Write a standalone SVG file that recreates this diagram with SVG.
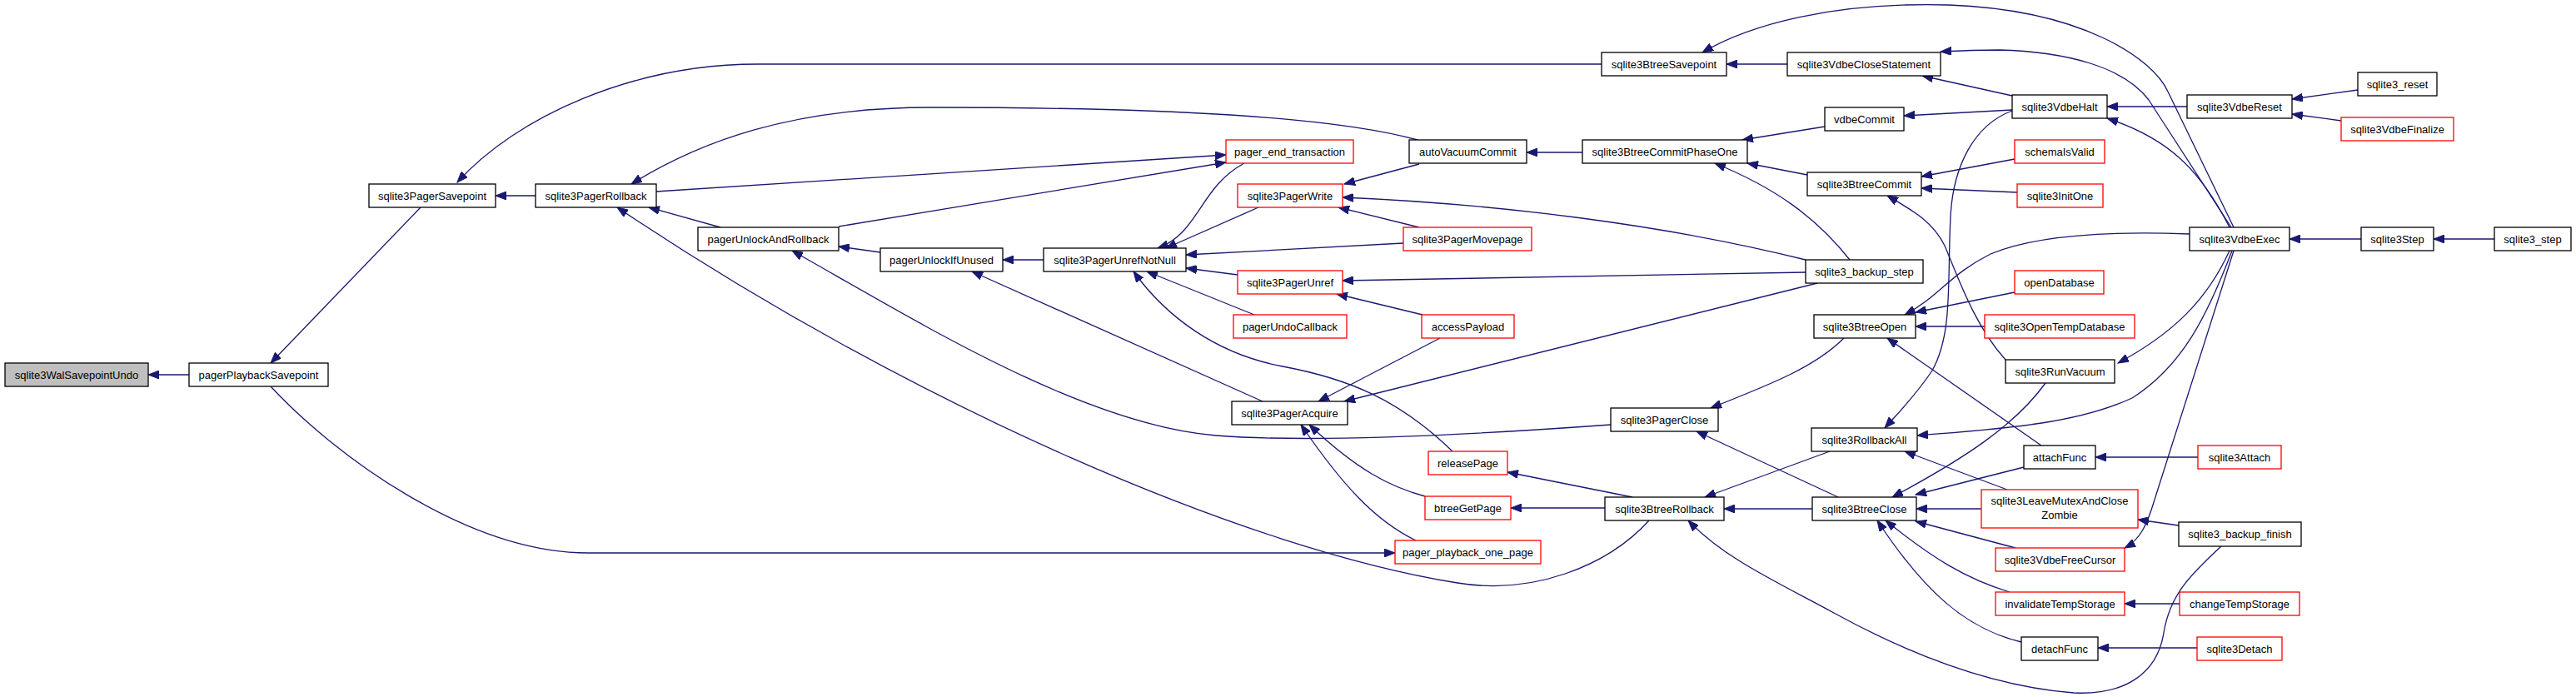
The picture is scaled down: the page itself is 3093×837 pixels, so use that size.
<svg xmlns="http://www.w3.org/2000/svg" width="3093" height="837" viewBox="0 0 3093 837">
<style>
.nd rect{fill:#ffffff;stroke:#000000;stroke-width:1.3}
.nd.red rect{stroke:#ff0000}
.nd.cur rect{fill:#bfbfbf}
.nd text{font-family:"Liberation Sans",Arial,sans-serif;font-size:13px;fill:#000000;text-anchor:middle}
.ed path{fill:none;stroke:#191970;stroke-width:1.3;marker-end:url(#ah)}
</style>
<defs>
<marker id="ah" markerWidth="14" markerHeight="10" refX="13" refY="5" orient="auto" markerUnits="userSpaceOnUse">
<polygon points="0,0 13,5 0,10" fill="#191970" stroke="#191970" stroke-width="1"/>
</marker>
</defs>
<rect x="0" y="0" width="3093" height="837" fill="#ffffff"/>
<g id="connectors" class="ed">
<path d="M227,450 L178,450"/>
<path d="M505,249 L325,436"/>
<path d="M325,464 C400,545 560,664 706,664 L1675,664"/>
<path d="M643,235 L595,235"/>
<path d="M1923,77 L910,77 C760,77 620,140 549,219"/>
<path d="M1702,168 C1600,140 1400,129 1118,129 C950,129 840,170 758,221"/>
<path d="M788,230 L1472,186"/>
<path d="M1007,272 L1472,195"/>
<path d="M865,273 L779,249"/>
<path d="M1057,303 L1007,296"/>
<path d="M1253,312 L1204,312"/>
<path d="M1934,510 C1700,527 1550,530 1460,523 C1300,510 1100,385 951,301"/>
<path d="M1516,482 L1167,326"/>
<path d="M1494,196 C1440,225 1440,280 1390,298"/>
<path d="M1511,249 L1400,298"/>
<path d="M1685,292 L1424,306"/>
<path d="M1486,330 L1424,322"/>
<path d="M1506,378 L1377,326"/>
<path d="M1744,542 C1680,480 1620,455 1540,440 C1460,425 1400,380 1361,326"/>
<path d="M1704,197 L1614,221"/>
<path d="M2168,312 C2000,270 1800,245 1612,237"/>
<path d="M1704,273 L1607,249"/>
<path d="M2168,327 L1612,337"/>
<path d="M1708,378 L1605,353"/>
<path d="M1729,406 L1583,482"/>
<path d="M2182,340 L1614,482"/>
<path d="M1700,649 C1650,625 1610,580 1562,510"/>
<path d="M1711,596 C1670,585 1630,565 1572,510"/>
<path d="M1960,597 L1810,567"/>
<path d="M1927,610 L1814,610"/>
<path d="M1980,625 C1930,680 1840,715 1750,700 C1500,660 1100,490 741,249"/>
<path d="M2207,597 L2037,518"/>
<path d="M2214,406 C2180,440 2130,460 2054,490"/>
<path d="M2197,542 L2047,597"/>
<path d="M2176,611 L2070,611"/>
<path d="M2667,656 C2630,690 2605,715 2598,760 C2590,810 2550,835 2490,832 C2400,825 2300,790 2200,735 C2130,697 2070,670 2027,625"/>
<path d="M2416,133 C2370,150 2345,200 2342,260 C2338,340 2345,400 2320,445 C2300,475 2280,495 2263,514"/>
<path d="M2682,273 L2603,110 C2585,70 2500,12 2340,6 C2200,2 2100,30 2044,63"/>
<path d="M2679,273 L2580,120 C2550,80 2480,62 2400,60 C2370,60 2350,61 2330,62"/>
<path d="M2677,273 C2640,200 2600,165 2530,142"/>
<path d="M2626,128 L2530,128"/>
<path d="M2416,115 L2308,91"/>
<path d="M2416,132 L2286,139"/>
<path d="M2191,152 L2092,168"/>
<path d="M2170,210 L2098,196"/>
<path d="M2221,312 C2180,260 2130,225 2059,196"/>
<path d="M1900,183 L1833,183"/>
<path d="M2146,77 L2073,77"/>
<path d="M2831,108 L2752,119"/>
<path d="M2811,145 L2752,137"/>
<path d="M2419,191 L2307,212"/>
<path d="M2422,231 L2307,226"/>
<path d="M2408,432 C2370,390 2350,330 2335,295 C2320,265 2295,252 2266,235"/>
<path d="M2835,287 L2749,287"/>
<path d="M2995,287 L2922,287"/>
<path d="M2629,281 C2550,278 2450,280 2390,305 C2340,330 2330,355 2287,378"/>
<path d="M2419,351 L2300,375"/>
<path d="M2383,392 L2300,392"/>
<path d="M2451,535 L2266,406"/>
<path d="M2677,301 C2650,360 2610,400 2543,436"/>
<path d="M2680,301 C2650,380 2620,440 2560,478 C2490,510 2400,515 2302,523"/>
<path d="M2682,301 L2587,600 C2578,630 2570,648 2551,658"/>
<path d="M2639,549 L2516,549"/>
<path d="M2410,588 L2287,542"/>
<path d="M2456,460 C2420,510 2360,550 2272,597"/>
<path d="M2430,561 L2300,594"/>
<path d="M2379,611 L2301,611"/>
<path d="M2420,658 L2300,626"/>
<path d="M2413,711 C2360,695 2320,670 2264,625"/>
<path d="M2427,771 C2360,755 2310,710 2254,625"/>
<path d="M2616,631 L2567,624"/>
<path d="M2617,725 L2551,725"/>
<path d="M2638,778 L2519,778"/>
</g>
<g id="n1" class="nd cur"><rect x="6" y="436" width="172" height="28"/><text x="92" y="454.5">sqlite3WalSavepointUndo</text></g>
<g id="n2" class="nd"><rect x="227" y="436" width="167" height="28"/><text x="310.5" y="454.5">pagerPlaybackSavepoint</text></g>
<g id="n3" class="nd"><rect x="443" y="221" width="152" height="28"/><text x="519" y="239.5">sqlite3PagerSavepoint</text></g>
<g id="n4" class="nd"><rect x="643" y="221" width="145" height="28"/><text x="715.5" y="239.5">sqlite3PagerRollback</text></g>
<g id="n5" class="nd"><rect x="838" y="273" width="169" height="28"/><text x="922.5" y="291.5">pagerUnlockAndRollback</text></g>
<g id="n6" class="nd"><rect x="1057" y="298" width="147" height="28"/><text x="1130.5" y="316.5">pagerUnlockIfUnused</text></g>
<g id="n7" class="nd"><rect x="1253" y="298" width="171" height="28"/><text x="1338.5" y="316.5">sqlite3PagerUnrefNotNull</text></g>
<g id="n8" class="nd red"><rect x="1472" y="168" width="153" height="28"/><text x="1548.5" y="186.5">pager_end_transaction</text></g>
<g id="n9" class="nd red"><rect x="1486" y="221" width="126" height="28"/><text x="1549" y="239.5">sqlite3PagerWrite</text></g>
<g id="n10" class="nd red"><rect x="1685" y="273" width="154" height="28"/><text x="1762" y="291.5">sqlite3PagerMovepage</text></g>
<g id="n11" class="nd red"><rect x="1486" y="325" width="126" height="28"/><text x="1549" y="343.5">sqlite3PagerUnref</text></g>
<g id="n12" class="nd red"><rect x="1481" y="378" width="136" height="28"/><text x="1549" y="396.5">pagerUndoCallback</text></g>
<g id="n13" class="nd red"><rect x="1707" y="378" width="111" height="28"/><text x="1762.5" y="396.5">accessPayload</text></g>
<g id="n14" class="nd"><rect x="1479" y="482" width="139" height="28"/><text x="1548.5" y="500.5">sqlite3PagerAcquire</text></g>
<g id="n15" class="nd red"><rect x="1715" y="542" width="95" height="28"/><text x="1762.5" y="560.5">releasePage</text></g>
<g id="n16" class="nd red"><rect x="1711" y="596" width="103" height="28"/><text x="1762.5" y="614.5">btreeGetPage</text></g>
<g id="n17" class="nd red"><rect x="1675" y="649" width="175" height="28"/><text x="1762.5" y="667.5">pager_playback_one_page</text></g>
<g id="n18" class="nd"><rect x="1692" y="168" width="141" height="28"/><text x="1762.5" y="186.5">autoVacuumCommit</text></g>
<g id="n19" class="nd"><rect x="1923" y="63" width="150" height="28"/><text x="1998" y="81.5">sqlite3BtreeSavepoint</text></g>
<g id="n20" class="nd"><rect x="2146" y="63" width="184" height="28"/><text x="2238" y="81.5">sqlite3VdbeCloseStatement</text></g>
<g id="n21" class="nd"><rect x="1900" y="168" width="198" height="28"/><text x="1999" y="186.5">sqlite3BtreeCommitPhaseOne</text></g>
<g id="n22" class="nd"><rect x="2191" y="129" width="95" height="28"/><text x="2238.5" y="147.5">vdbeCommit</text></g>
<g id="n23" class="nd"><rect x="2170" y="207" width="137" height="28"/><text x="2238.5" y="225.5">sqlite3BtreeCommit</text></g>
<g id="n24" class="nd"><rect x="2168" y="312" width="141" height="28"/><text x="2238.5" y="330.5">sqlite3_backup_step</text></g>
<g id="n25" class="nd"><rect x="2178" y="378" width="122" height="28"/><text x="2239" y="396.5">sqlite3BtreeOpen</text></g>
<g id="n26" class="nd"><rect x="1934" y="490" width="129" height="28"/><text x="1998.5" y="508.5">sqlite3PagerClose</text></g>
<g id="n27" class="nd"><rect x="1927" y="597" width="143" height="28"/><text x="1998.5" y="615.5">sqlite3BtreeRollback</text></g>
<g id="n28" class="nd"><rect x="2175" y="514" width="127" height="28"/><text x="2238.5" y="532.5">sqlite3RollbackAll</text></g>
<g id="n29" class="nd"><rect x="2176" y="597" width="125" height="28"/><text x="2238.5" y="615.5">sqlite3BtreeClose</text></g>
<g id="n30" class="nd"><rect x="2416" y="114" width="114" height="28"/><text x="2473" y="132.5">sqlite3VdbeHalt</text></g>
<g id="n31" class="nd"><rect x="2626" y="114" width="126" height="28"/><text x="2689" y="132.5">sqlite3VdbeReset</text></g>
<g id="n32" class="nd"><rect x="2831" y="87" width="95" height="28"/><text x="2878.5" y="105.5">sqlite3_reset</text></g>
<g id="n33" class="nd red"><rect x="2811" y="141" width="135" height="28"/><text x="2878.5" y="159.5">sqlite3VdbeFinalize</text></g>
<g id="n34" class="nd red"><rect x="2419" y="168" width="108" height="28"/><text x="2473" y="186.5">schemaIsValid</text></g>
<g id="n35" class="nd red"><rect x="2422" y="221" width="103" height="28"/><text x="2473.5" y="239.5">sqlite3InitOne</text></g>
<g id="n36" class="nd"><rect x="2629" y="273" width="120" height="28"/><text x="2689" y="291.5">sqlite3VdbeExec</text></g>
<g id="n37" class="nd"><rect x="2835" y="273" width="87" height="28"/><text x="2878.5" y="291.5">sqlite3Step</text></g>
<g id="n38" class="nd"><rect x="2995" y="273" width="92" height="28"/><text x="3041" y="291.5">sqlite3_step</text></g>
<g id="n39" class="nd red"><rect x="2419" y="325" width="107" height="28"/><text x="2472.5" y="343.5">openDatabase</text></g>
<g id="n40" class="nd red"><rect x="2383" y="378" width="180" height="28"/><text x="2473" y="396.5">sqlite3OpenTempDatabase</text></g>
<g id="n41" class="nd"><rect x="2408" y="432" width="131" height="28"/><text x="2473.5" y="450.5">sqlite3RunVacuum</text></g>
<g id="n42" class="nd"><rect x="2430" y="535" width="86" height="28"/><text x="2473" y="553.5">attachFunc</text></g>
<g id="n43" class="nd red"><rect x="2639" y="535" width="100" height="28"/><text x="2689" y="553.5">sqlite3Attach</text></g>
<g id="n44" class="nd red"><rect x="2379" y="588" width="188" height="46"/><text x="2473" y="606">sqlite3LeaveMutexAndClose</text><text x="2473" y="623">Zombie</text></g>
<g id="n45" class="nd"><rect x="2616" y="627" width="147" height="29"/><text x="2689.5" y="646">sqlite3_backup_finish</text></g>
<g id="n46" class="nd red"><rect x="2396" y="658" width="155" height="28"/><text x="2473.5" y="676.5">sqlite3VdbeFreeCursor</text></g>
<g id="n47" class="nd red"><rect x="2396" y="711" width="155" height="28"/><text x="2473.5" y="729.5">invalidateTempStorage</text></g>
<g id="n48" class="nd red"><rect x="2617" y="711" width="144" height="28"/><text x="2689" y="729.5">changeTempStorage</text></g>
<g id="n49" class="nd"><rect x="2427" y="765" width="92" height="28"/><text x="2473" y="783.5">detachFunc</text></g>
<g id="n50" class="nd red"><rect x="2638" y="765" width="102" height="28"/><text x="2689" y="783.5">sqlite3Detach</text></g>
</svg>
